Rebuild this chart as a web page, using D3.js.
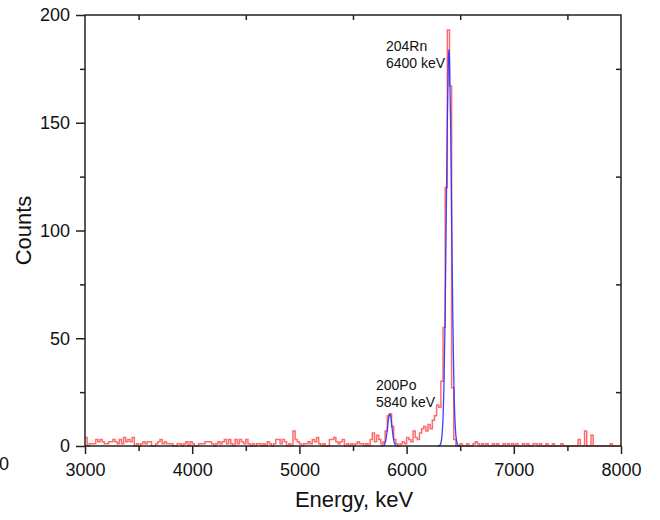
<!DOCTYPE html>
<html>
<head>
<meta charset="utf-8">
<script src="https://cdn.jsdelivr.net/npm/d3@7"></script>
<style>
  html, body { margin: 0; padding: 0; background: #fff; }
  svg { display: block; font-family: "Liberation Sans", Arial, sans-serif; }
</style>
</head>
<body>
<svg id="chart" width="660" height="520"></svg>
<script>
// Measured spectrum: counts per 20 keV bin starting at 3000 keV
const energyStart = 3000;
const binWidth = 20;
const spectrumCounts = [
  4,0,1,1,1,3,2,3,2,1,1,2,2,3,2,1,3,1,4,2,
  3,2,4,0,1,0,1,2,1,2,2,0,0,1,2,3,1,2,1,1,
  1,0,0,1,1,0,1,2,0,2,1,0,0,1,1,1,2,2,2,1,
  0,1,2,1,2,3,1,3,1,0,3,1,3,2,1,3,1,0,1,0,
  1,1,0,1,0,2,1,0,1,3,3,1,3,2,0,1,0,7,3,2,
  1,0,1,1,2,1,3,2,4,1,0,1,0,0,3,3,4,2,1,2,
  3,0,1,0,1,0,1,2,1,1,0,1,0,3,6,2,5,3,1,2,
  7,14,15,9,3,1,0,1,2,1,4,3,2,7,4,3,6,8,9,7,
  10,8,12,14,19,18,30,55,120,193,167,27,3,0,0,1,0,0,1,0,
  0,1,2,1,0,1,0,1,0,0,1,0,1,0,0,1,0,1,0,1,
  0,1,0,0,1,0,1,0,0,1,1,0,1,0,0,1,0,0,1,0,
  0,0,1,0,0,0,0,0,0,0,3,0,0,7,0,0,5,0,0,0,
  0,0,0,0,0,1,0,0,0,0
];

// Fitted peak curves (energy in keV, counts)
const fitPoEnergy = [5760,5770,5780,5790,5800,5810,5820,5830,5840,5850,5860,5870,5880,5890,5900,5910,5920];
const fitPoCounts = [0,0.02,0.1,0.45,1.5,3.8,7.7,12.1,14.8,14.1,10.5,6.0,2.7,0.95,0.26,0.05,0];
const fitRnEnergy = [6290,6300,6310,6320,6330,6340,6350,6360,6370,6380,6390,6395,6400,6410,6420,6430,6440,6450,6460,6470,6480,6490,6500];
const fitRnCounts = [0,0.07,0.35,1.4,4.7,13.3,31.7,63.5,107,151,180,184,180,151,107,63.5,31.7,13.3,4.7,1.4,0.35,0.07,0];

// Axis ticks
const xMajorTicks = [3000,4000,5000,6000,7000,8000];
const xMinorTicks = [3500,4500,5500,6500,7500];
const yMajorTicks = [0,50,100,150,200];
const yMinorTicks = [25,75,125,175];

// Peak annotations
const peakLabels = [
  { lines: ["204Rn", "6400 keV"] },
  { lines: ["200Po", "5840 keV"] }
];

const svg = d3.select("#chart");
const plotLeft = 85, plotRight = 621, plotTop = 15, plotBottom = 446;

const x = d3.scaleLinear().domain([3000, 8000]).range([plotLeft, plotRight]);
const y = d3.scaleLinear().domain([0, 200]).range([plotBottom, plotTop]);

// Spectrum as a step line
const spectrumPts = spectrumCounts.map((c, i) => [energyStart + i * binWidth, c]);
spectrumPts.push([energyStart + spectrumCounts.length * binWidth, spectrumCounts[spectrumCounts.length - 1]]);

const stepLine = d3.line()
  .x(d => x(d[0]))
  .y(d => y(d[1]))
  .curve(d3.curveStepAfter);

svg.append("path")
  .datum(spectrumPts)
  .attr("fill", "none")
  .attr("stroke", "#ff6b6b")
  .attr("stroke-width", 1.5)
  .attr("d", stepLine);

// Fit curves
const fitLine = d3.line()
  .x(d => x(d[0]))
  .y(d => y(d[1]))
  .curve(d3.curveMonotoneX);

[[fitPoEnergy, fitPoCounts], [fitRnEnergy, fitRnCounts]].forEach(([es, cs]) => {
  svg.append("path")
    .datum(es.map((e, i) => [e, cs[i]]))
    .attr("fill", "none")
    .attr("stroke", "#2b2bff")
    .attr("stroke-opacity", 0.9)
    .attr("stroke-width", 1.3)
    .attr("d", fitLine);
});

// Axes
const axisColor = "#222";
function styleAxis(g) {
  g.select(".domain").remove();
  g.selectAll(".tick line").attr("stroke", axisColor).attr("stroke-width", 1.5);
  g.selectAll(".tick text").attr("fill", "#111").style("font-size", "18px")
    .style("font-family", "'Liberation Sans', Arial, sans-serif");
}

// bottom
svg.append("g").attr("transform", `translate(0,${plotBottom})`)
  .call(d3.axisBottom(x).tickValues(xMajorTicks).tickSize(8).tickPadding(9).tickFormat(d3.format("d")))
  .call(styleAxis);
svg.append("g").attr("transform", `translate(0,${plotBottom})`)
  .call(d3.axisBottom(x).tickValues(xMinorTicks).tickSize(5).tickFormat(""))
  .call(styleAxis);
// left
svg.append("g").attr("transform", `translate(${plotLeft},0)`)
  .call(d3.axisLeft(y).tickValues(yMajorTicks).tickSize(9).tickPadding(6).tickFormat(d3.format("d")))
  .call(styleAxis);
svg.append("g").attr("transform", `translate(${plotLeft},0)`)
  .call(d3.axisLeft(y).tickValues(yMinorTicks).tickSize(5).tickFormat(""))
  .call(styleAxis);
// top and right: inward minor ticks
svg.append("g").attr("transform", `translate(0,${plotTop})`)
  .call(d3.axisBottom(x).tickValues(xMinorTicks).tickSize(5).tickFormat(""))
  .call(styleAxis);
svg.append("g").attr("transform", `translate(${plotRight},0)`)
  .call(d3.axisLeft(y).tickValues(yMinorTicks).tickSize(5).tickFormat(""))
  .call(styleAxis);

// Frame
svg.append("rect")
  .attr("x", plotLeft).attr("y", plotTop)
  .attr("width", plotRight - plotLeft).attr("height", plotBottom - plotTop)
  .attr("fill", "none")
  .attr("stroke", axisColor)
  .attr("stroke-width", 1.5);

// Axis titles
svg.append("text")
  .attr("x", (plotLeft + plotRight) / 2 + 1)
  .attr("y", 507)
  .attr("text-anchor", "middle")
  .style("font-size", "22px")
  .attr("fill", "#111")
  .text("Energy, keV");

svg.append("text")
  .attr("transform", `translate(31,${(plotTop + plotBottom) / 2}) rotate(-90)`)
  .attr("text-anchor", "middle")
  .style("font-size", "22px")
  .attr("fill", "#111")
  .text("Counts");

// Stray label at the lower left edge
svg.append("text")
  .attr("x", -1)
  .attr("y", 470)
  .style("font-size", "18px")
  .attr("fill", "#111")
  .text("0");

// Peak annotations, placed up-left of each peak
const annotPos = [
  { x: 386, y: 51 },
  { x: 376, y: 389.5 }
];
peakLabels.forEach((p, k) => {
  const t = svg.append("text")
    .attr("y", annotPos[k].y)
    .style("font-size", "14px")
    .attr("fill", "#111");
  p.lines.forEach((line, j) => {
    t.append("tspan")
      .attr("x", annotPos[k].x)
      .attr("dy", j === 0 ? 0 : 17)
      .text(line);
  });
});
</script>
</body>
</html>
